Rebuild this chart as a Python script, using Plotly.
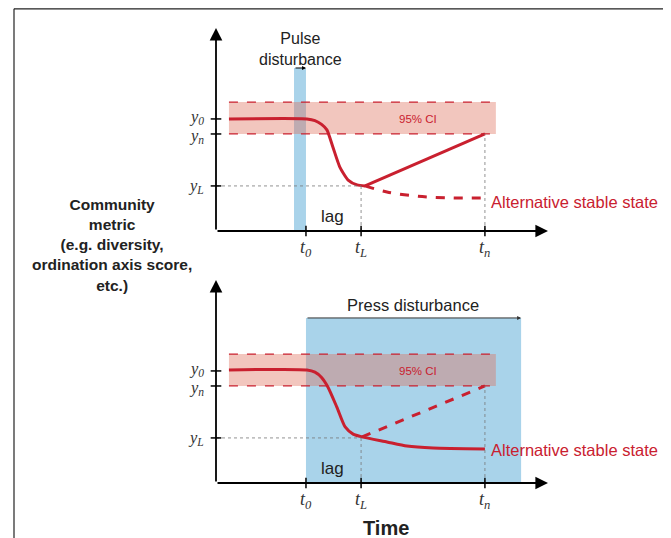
import plotly.graph_objects as go

# ---- data (conceptual units: time 0-100, metric 0-100) ----
t0, tL, tn = 27.1, 43.7, 81.0
y0, yn, yL = 55.2, 47.8, 22.2
ci_low, ci_high = 47.8, 63.5
ci_start, ci_end = 3.9, 84.3
pulse_start, pulse_top = 23.5, 80.3
press_end, press_top = 91.9, 81.3

# pulse panel: disturbance trajectory
pulse_t = [3.9, 27.4, 29.8, 31.8, 33.4, 35.2, 37.3, 39.8, 42.5, 44.9]
pulse_v = [55.2, 55.2, 54.4, 52.5, 49.8, 41.4, 31.5, 25.1, 22.7, 22.2]
pulse_recovery_t = [44.9, 81.0]
pulse_recovery_v = [22.2, 47.8]
pulse_alt_t = [44.9, 51.5, 60.5, 70.5, 81.0]
pulse_alt_v = [22.2, 19.2, 17.2, 16.3, 16.3]

# press panel
press_t = [3.9, 27.4, 29.8, 31.8, 33.7, 36.4, 38.9, 41.3, 44.0, 51.5, 57.5, 65.4, 81.0]
press_v = [55.7, 55.7, 54.6, 52.0, 47.3, 37.4, 27.6, 24.1, 22.7, 20.2, 18.2, 17.2, 16.7]
press_recovery_t = [44.0, 81.0]
press_recovery_v = [22.7, 47.8]

t_ticks = [t0, tL, tn]
t_labels = ["<i>t</i><sub><i>0</i></sub>", "<i>t</i><sub><i>L</i></sub>", "<i>t</i><sub><i>n</i></sub>"]
y_ticks = [y0, yn, yL]
y_labels = ["<i>y</i><sub><i>0</i></sub>", "<i>y</i><sub><i>n</i></sub>", "<i>y</i><sub><i>L</i></sub>"]
y_label_shift = [2, -2, 0]

RED = "#c9202f"
BLUE = "#a9d3ea"
CI_FILL = "rgba(222,112,92,0.40)"
FONT = "Liberation Sans, Arial, sans-serif"
SERIF = "Liberation Serif, Times New Roman, serif"

# page has an 8px body margin: figure is placed at (8, 8)
W, H, OFF = 663, 530, 8


def px(xp):
    return (xp - OFF) / W


def py(yp):
    return 1 - (yp - OFF) / H


fig = go.Figure()
shapes = []
annotations = []

# disturbance bars (drawn first so the CI band tints them)
shapes.append(dict(type="rect", xref="x", yref="y", x0=pulse_start, x1=t0, y0=0, y1=pulse_top,
                   fillcolor=BLUE, line=dict(width=0), layer="below"))
shapes.append(dict(type="rect", xref="x2", yref="y2", x0=t0, x1=press_end, y0=0, y1=press_top,
                   fillcolor=BLUE, line=dict(width=0), layer="below"))

panels = [("x", "y", pulse_t, pulse_v, pulse_recovery_t, pulse_recovery_v, "solid",
           pulse_alt_t, pulse_alt_v, "dash"),
          ("x2", "y2", press_t, press_v, press_recovery_t, press_recovery_v, "dash",
           None, None, None)]

for xr, yr, ct, cv, rt, rv, rdash, at, av, adash in panels:
    fig.add_trace(go.Scatter(x=ct, y=cv, mode="lines", xaxis=xr, yaxis=yr,
                             line=dict(color=RED, width=3, shape="spline", smoothing=0.6),
                             hoverinfo="skip", showlegend=False))
    fig.add_trace(go.Scatter(x=rt, y=rv, mode="lines", xaxis=xr, yaxis=yr,
                             line=dict(color=RED, width=3, dash=rdash),
                             hoverinfo="skip", showlegend=False))
    if at is not None:
        fig.add_trace(go.Scatter(x=at, y=av, mode="lines", xaxis=xr, yaxis=yr,
                                 line=dict(color=RED, width=3, dash=adash, shape="spline"),
                                 hoverinfo="skip", showlegend=False))

    # CI band
    shapes.append(dict(type="rect", xref=xr, yref=yr, x0=ci_start, x1=ci_end,
                       y0=ci_low, y1=ci_high, fillcolor=CI_FILL, line=dict(width=0),
                       layer="below"))
    for yy in (ci_low, ci_high):
        shapes.append(dict(type="line", xref=xr, yref=yr, x0=ci_start, x1=ci_end,
                           y0=yy, y1=yy, line=dict(color=RED, width=1.2, dash="dash")))

    # guide lines
    shapes.append(dict(type="line", xref=xr, yref=yr, x0=0, x1=tL, y0=yL, y1=yL,
                       line=dict(color="#777", width=0.8, dash="dot")))
    shapes.append(dict(type="line", xref=xr, yref=yr, x0=tL, x1=tL, y0=0, y1=yL,
                       line=dict(color="#777", width=0.8, dash="dot")))
    shapes.append(dict(type="line", xref=xr, yref=yr, x0=tn, x1=tn, y0=0, y1=yn,
                       line=dict(color="#777", width=0.8, dash="dot")))

    # ticks
    for tv, tl in zip(t_ticks, t_labels):
        shapes.append(dict(type="line", xref=xr, yref=yr, x0=tv, x1=tv, y0=-2.6, y1=2.6,
                           line=dict(color="black", width=1.5)))
        annotations.append(dict(x=tv, y=-8.4, xref=xr, yref=yr, text=tl, showarrow=False,
                                font=dict(family=SERIF, size=18, color="#333")))
    for yv, yl, ys in zip(y_ticks, y_labels, y_label_shift):
        shapes.append(dict(type="line", xref=xr, yref=yr, x0=-1.6, x1=1.6, y0=yv, y1=yv,
                           line=dict(color="black", width=1.5)))
        annotations.append(dict(x=-3.0, y=yv, xref=xr, yref=yr, text=yl, showarrow=False,
                                xanchor="right", yanchor="middle", yshift=ys,
                                font=dict(family=SERIF, size=16.5, color="#333")))

    # axes with arrows
    annotations.append(dict(x=0, y=100, ax=0, ay=0, xref=xr, yref=yr, axref=xr, ayref=yr,
                            text="", showarrow=True, arrowhead=2, arrowsize=1.4,
                            arrowwidth=1.8, arrowcolor="black"))
    annotations.append(dict(x=100, y=0, ax=0, ay=0, xref=xr, yref=yr, axref=xr, ayref=yr,
                            text="", showarrow=True, arrowhead=2, arrowsize=1.4,
                            arrowwidth=1.8, arrowcolor="black"))

    annotations.append(dict(x=60.8, y=y0, xref=xr, yref=yr, text="95% CI", showarrow=False,
                            font=dict(family=FONT, size=11.5, color=RED)))
    annotations.append(dict(x=35.2, y=6.9, xref=xr, yref=yr, text="lag", showarrow=False,
                            font=dict(family=FONT, size=17, color="#222")))

# pulse annotations
annotations.append(dict(x=t0, y=pulse_top, ax=pulse_start, ay=pulse_top, xref="x", yref="y",
                        axref="x", ayref="y", text="", showarrow=True, arrowhead=2,
                        arrowsize=0.8, arrowwidth=1, arrowcolor="black"))
annotations.append(dict(x=25.3, y=89.9, xref="x", yref="y", text="Pulse<br>disturbance",
                        showarrow=False, font=dict(family=FONT, size=16, color="#222")))
annotations.append(dict(x=82.3, y=14.3, xref="x", yref="y", text="Alternative stable state",
                        showarrow=False, xanchor="left",
                        font=dict(family=FONT, size=16.5, color=RED)))

# press annotations
annotations.append(dict(x=press_end, y=press_top, ax=t0, ay=press_top, xref="x2", yref="y2",
                        axref="x2", ayref="y2", text="", showarrow=True, arrowhead=2,
                        arrowsize=0.8, arrowwidth=1, arrowcolor="#333"))
annotations.append(dict(x=59.3, y=87.7, xref="x2", yref="y2", text="Press disturbance",
                        showarrow=False, font=dict(family=FONT, size=16.5, color="#222")))
annotations.append(dict(x=82.3, y=16.3, xref="x2", yref="y2", text="Alternative stable state",
                        showarrow=False, xanchor="left",
                        font=dict(family=FONT, size=16.5, color=RED)))

# shared labels
annotations.append(dict(x=px(112), y=py(245), xref="paper", yref="paper",
                        xanchor="center", yanchor="middle",
                        text="<b>Community<br>metric<br>(e.g. diversity,<br>ordination axis score,<br>etc.)</b>",
                        showarrow=False, font=dict(family=FONT, size=15.5, color="#222")))
annotations.append(dict(x=px(386), y=py(528), xref="paper", yref="paper",
                        xanchor="center", yanchor="middle",
                        text="<b>Time</b>", showarrow=False,
                        font=dict(family=FONT, size=20, color="#222")))

# frame
shapes.append(dict(type="line", xref="paper", yref="paper", x0=px(14), x1=px(14),
                   y0=-0.05, y1=py(8.8), line=dict(color="#222", width=1.2)))
shapes.append(dict(type="line", xref="paper", yref="paper", x0=px(669.5), x1=px(669.5),
                   y0=-0.05, y1=py(8.8), line=dict(color="#222", width=1.2)))
shapes.append(dict(type="line", xref="paper", yref="paper", x0=px(14), x1=px(669.5),
                   y0=py(8.8), y1=py(8.8), line=dict(color="#222", width=1.2)))

# axis ranges chosen so that page pixels map onto the data units
split = 1 - (256 - OFF) / H
ax_common = dict(visible=False, showgrid=False, zeroline=False, fixedrange=True)
fig.update_layout(
    width=W, height=H,
    margin=dict(l=0, r=0, t=0, b=0),
    paper_bgcolor="white", plot_bgcolor="rgba(0,0,0,0)",
    xaxis=dict(range=[(OFF - 216) / 3.32, (671 - 216) / 3.32], domain=[0, 1], anchor="y", **ax_common),
    yaxis=dict(range=[(231 - 256) / 2.03, (231 - OFF) / 2.03], domain=[split, 1], anchor="x", **ax_common),
    xaxis2=dict(range=[(OFF - 216) / 3.32, (671 - 216) / 3.32], domain=[0, 1], anchor="y2", **ax_common),
    yaxis2=dict(range=[(483 - 538) / 2.03, (483 - 256) / 2.03], domain=[0, split], anchor="x2", **ax_common),
    shapes=shapes,
    annotations=annotations,
    showlegend=False,
)

fig.write_html("out.html")
